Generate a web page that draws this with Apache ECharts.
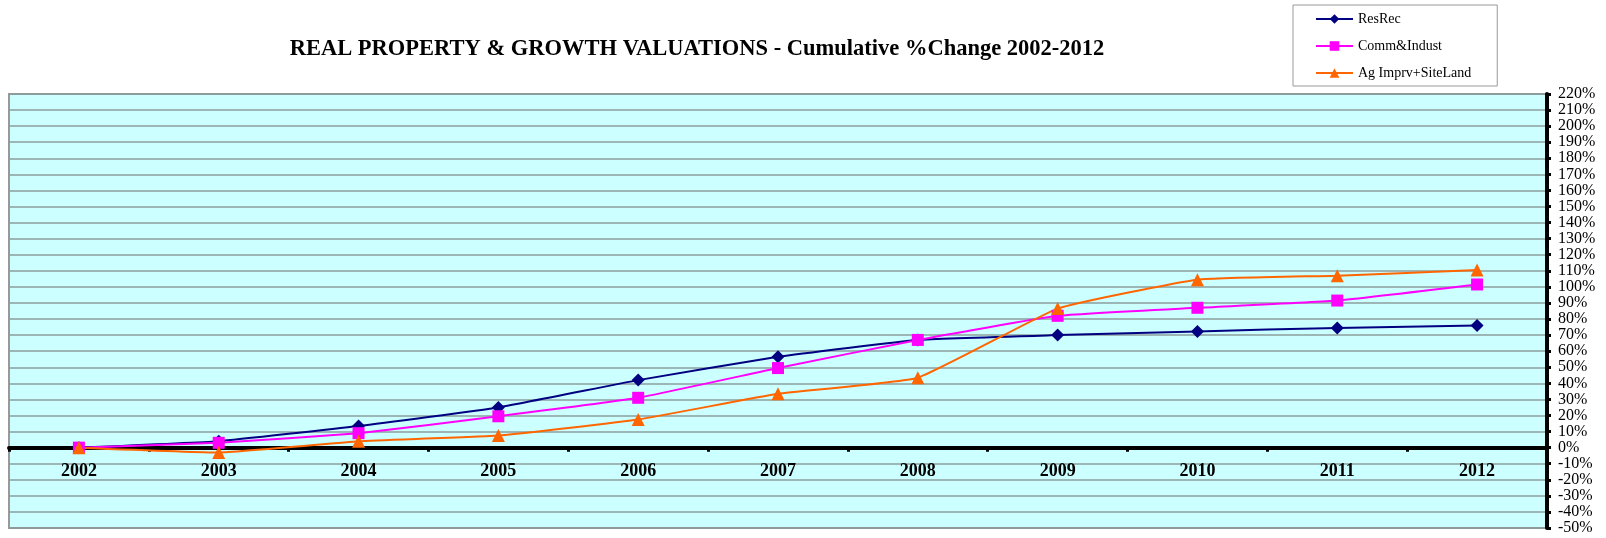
<!DOCTYPE html>
<html>
<head>
<meta charset="utf-8">
<script src="https://cdn.jsdelivr.net/npm/echarts@6/dist/echarts.min.js"></script>
<style>
  html, body { margin: 0; padding: 0; background: #fff; }
  #main { width: 1606px; height: 538px; }
</style>
</head>
<body>
<div id="main"></div>
<script>
// years on the x axis
var years = ['2002', '2003', '2004', '2005', '2006', '2007', '2008', '2009', '2010', '2011', '2012'];
// cumulative % change
var resRec = [0, 4, 13.5, 25, 42, 56.5, 67, 70, 72.3, 74.5, 76];
var commIndust = [0, 3, 9, 19.5, 31, 49.5, 67, 82, 87, 91.5, 101.5];
var agLand = [0, -3, 4, 7.5, 17.5, 33.5, 43.5, 86.5, 104.5, 107, 110.5];

var chart = echarts.init(document.getElementById('main'));
var serif = '"Liberation Serif", "Times New Roman", serif';

// plot box, y range
var gridTop = 94, gridBottom = 10, yMin = -50, yMax = 220;
var plotH = 538 - gridTop - gridBottom;
// shift the category axis up so it sits on 0%
var zeroShift = -plotH * (0 - yMin) / (yMax - yMin);

function line(name, data, color, symbol, size) {
    return {
        name: name,
        type: 'line',
        data: data,
        symbol: symbol,
        symbolSize: size,
        smooth: 0.12,
        lineStyle: { color: color, width: 2 },
        itemStyle: { color: color },
        z: 3
    };
}

chart.setOption({
    animation: false,
    title: {
        text: 'REAL PROPERTY & GROWTH VALUATIONS - Cumulative %Change 2002-2012',
        left: 692,
        textAlign: 'center',
        top: 33,
        textStyle: { fontFamily: serif, fontSize: 22.5, fontWeight: 'bold', color: '#000' }
    },
    legend: {
        orient: 'vertical',
        left: 1293,
        top: 5,
        padding: [7, 26, 6, 22],
        itemWidth: 37,
        itemHeight: 12,
        itemGap: 13,
        borderColor: '#999',
        borderWidth: 1,
        borderRadius: 0,
        textStyle: { fontFamily: serif, fontSize: 14, color: '#000' },
        data: ['ResRec', 'Comm&Indust', 'Ag Imprv+SiteLand']
    },
    grid: {
        left: 9,
        right: 59,
        top: gridTop,
        bottom: gridBottom,
        outerBoundsMode: 'none',
        show: true,
        backgroundColor: '#CCFFFF',
        borderColor: '#999',
        borderWidth: 2
    },
    xAxis: {
        type: 'category',
        data: years,
        boundaryGap: true,
        offset: zeroShift,
        axisLine: { onZero: false, lineStyle: { color: '#000', width: 4 } },
        axisTick: { show: true, interval: 0, length: 4, lineStyle: { color: '#000', width: 3 } },
        axisLabel: { margin: 15, fontFamily: serif, fontSize: 18, fontWeight: 'bold', color: '#000' },
        splitLine: { show: false }
    },
    yAxis: {
        type: 'value',
        position: 'right',
        min: yMin,
        max: yMax,
        interval: 10,
        axisLine: { show: true, lineStyle: { color: '#000', width: 4 } },
        axisTick: { show: true, length: 4, lineStyle: { color: '#000', width: 3 } },
        axisLabel: { margin: 11, fontFamily: serif, fontSize: 16, color: '#000', formatter: '{value}%' },
        splitLine: { show: true, lineStyle: { color: '#8C9C9C', width: 1.5 } }
    },
    series: [
        line('ResRec', resRec, '#000080', 'diamond', 13),
        line('Comm&Indust', commIndust, '#FF00FF', 'rect', 12),
        line('Ag Imprv+SiteLand', agLand, '#FF6600', 'triangle', 13)
    ]
});
</script>
</body>
</html>
